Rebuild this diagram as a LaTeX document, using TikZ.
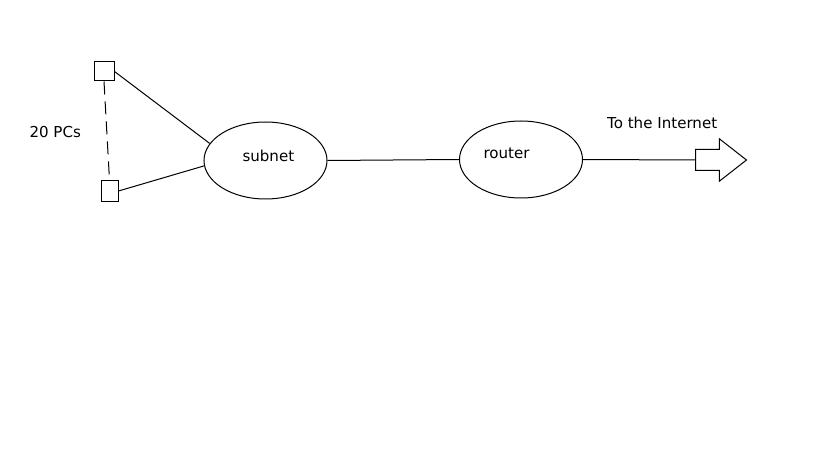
\documentclass[tikz,border=0pt]{standalone}
\usepackage{fontspec}
\setmainfont{DejaVu Sans}
\usetikzlibrary{shapes.geometric,shapes.arrows}

\tikzset{every picture/.style={line width=0.75pt}}
\tikzset{
  pcbox/.style={draw, rectangle, inner sep=0pt},
  netoval/.style={draw, ellipse, inner sep=0pt, minimum width=92.25pt, minimum height=57.75pt},
  lbl/.style={anchor=base west, inner sep=0pt, font=\fontsize{11.3}{13.5}\selectfont}
}

\begin{document}
\begin{tikzpicture}[x=0.75pt,y=0.75pt,yscale=-1,xscale=1]
\path[use as bounding box] (0,0) rectangle (819,460);

%Shape: PCs
\node [pcbox, minimum width=15pt, minimum height=14.25pt] (pc1) at (104,71.5) {};
\node [pcbox, minimum width=12.75pt, minimum height=15.75pt] (pc2) at (109.5,191) {};

%Shape: Ellipses
\node [netoval] (subnet) at (265.5,160.5) {};
\node [netoval] (router) at (521,159.5) {};

%Shape: Right Arrow
\node [draw, single arrow, anchor=west, inner sep=0pt, minimum height=38.25pt,
       inner ysep=7.5pt, single arrow head extend=8pt, single arrow tip angle=76,
       single arrow head indent=0pt] (internet) at (695,160) {};

%Straight Lines
\draw [dashed, dash pattern=on 9.75pt off 5.25pt] (pc1.south) -- (pc2.north);
\draw (pc1.east) -- (subnet.163);
\draw (pc2.east) -- (subnet.185);
\draw (subnet.east) -- (router.west);
\draw (router.east) -- (internet.west);

% Text Node
\draw (29,137.3) node [lbl] (pcs) {20 PCs};
% Text Node
\draw (242,161.7) node [lbl] (subnettxt) {subnet};
% Text Node
\draw (483,159) node [lbl] (routertxt) {router};
% Text Node
\draw (606.7,128.3) node [lbl] (nettxt) {To the Internet};

\end{tikzpicture}
\end{document}
